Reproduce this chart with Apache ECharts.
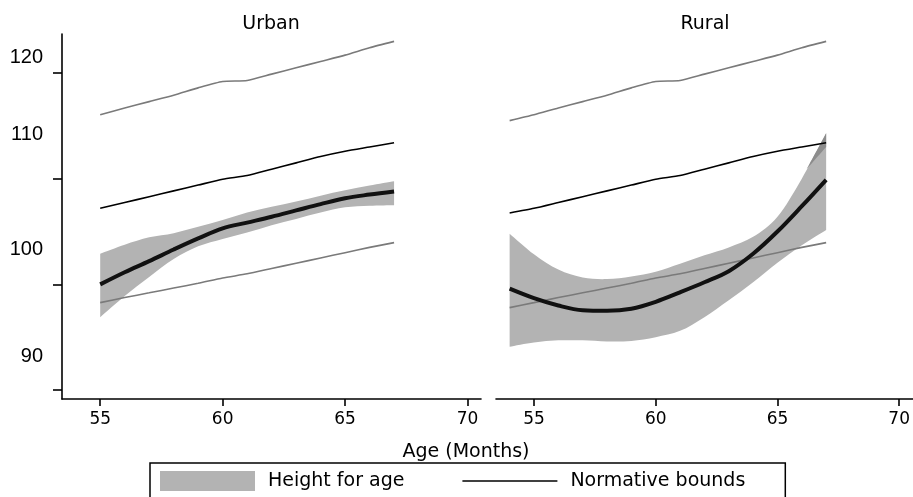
<!DOCTYPE html>
<html>
<head>
<meta charset="utf-8">
<script src="https://cdn.jsdelivr.net/npm/echarts@6/dist/echarts.min.js"></script>
<style>
  html, body { margin: 0; padding: 0; background: #fff; }
  #chart { width: 913px; height: 497px; }
</style>
</head>
<body>
<div id="chart"></div>
<script>
// Reference growth curves (cm) by age in months
const normAges   = [54, 55, 56, 57, 58, 59, 60, 61, 62, 63, 64, 65, 66, 67];
const normUpper  = [115.5, 116.05, 116.7, 117.3, 117.9, 118.6, 119.2, 119.3, 119.9, 120.5, 121.1, 121.7, 122.4, 123.0];
const normMedian = [106.75, 107.2, 107.75, 108.3, 108.85, 109.4, 109.95, 110.3, 110.9, 111.5, 112.1, 112.6, 113.0, 113.4];
const normLower  = [97.8, 98.27, 98.75, 99.2, 99.65, 100.1, 100.6, 101.0, 101.5, 102.0, 102.5, 103.0, 103.5, 103.95];

// Urban: fitted height for age with its confidence band
const urbanAges = [55, 56, 57, 58, 59, 60, 61, 62, 63, 64, 65, 66, 67];
const urbanFit  = [100.0, 101.15, 102.2, 103.3, 104.35, 105.3, 105.85, 106.4, 107.0, 107.6, 108.15, 108.5, 108.8];
const urbanHi   = [102.9, 103.75, 104.45, 104.85, 105.45, 106.1, 106.8, 107.35, 107.85, 108.4, 108.9, 109.35, 109.75];
const urbanLo   = [96.9, 98.9, 100.7, 102.4, 103.6, 104.3, 104.9, 105.6, 106.2, 106.8, 107.3, 107.45, 107.5];

// Rural: fitted height for age with its confidence band
const ruralAges = [54, 55, 56, 57, 58, 59, 60, 61, 62, 63, 64, 65, 66, 67];
const ruralFit  = [99.6, 98.7, 98.0, 97.55, 97.5, 97.7, 98.35, 99.25, 100.2, 101.25, 102.9, 105.0, 107.4, 109.9];
const ruralHi   = [104.8, 102.85, 101.4, 100.65, 100.5, 100.75, 101.2, 101.95, 102.75, 103.5, 104.5, 106.4, 110.0, 114.3];
const ruralLo   = [94.1, 94.5, 94.7, 94.7, 94.6, 94.65, 95.0, 95.6, 96.9, 98.5, 100.2, 102.05, 103.7, 105.15];

// Rural: sliver where the band overlaps itself at the oldest ages
const ruralOverlapAges = [66.2, 67];
const ruralOverlapLo   = [110.9, 113.0];
const ruralOverlapHi   = [110.9, 114.3];

const panelTitles = ['Urban', 'Rural'];
const xTicks = [55, 60, 65, 70];
const yTicks = [90, 100, 110, 120];
const xTitle = 'Age (Months)';
const bandName = 'Height for age';
const normName = 'Normative bounds';

const pairs = (xs, ys) => xs.map((x, i) => [x, ys[i]]);
const normFrom = (ys, startAge) =>
  normAges.map((a, i) => [a, ys[i]]).filter(p => p[0] >= startAge);

const FONT = '"DejaVu Sans", sans-serif';
const BAND = '#b3b3b3';
const BAND_DARK = '#8c8c8c';
const GREY = '#7a7a7a';

// Cubic Catmull-Rom segments through pixel points (first point excluded)
function curveTo(pts) {
  let s = '';
  const k = 1 / 6;
  for (let i = 0; i < pts.length - 1; i++) {
    const p0 = pts[Math.max(i - 1, 0)], p1 = pts[i], p2 = pts[i + 1], p3 = pts[Math.min(i + 2, pts.length - 1)];
    const c1 = [p1[0] + (p2[0] - p0[0]) * k, p1[1] + (p2[1] - p0[1]) * k];
    const c2 = [p2[0] - (p3[0] - p1[0]) * k, p2[1] - (p3[1] - p1[1]) * k];
    s += ' C' + c1[0] + ',' + c1[1] + ' ' + c2[0] + ',' + c2[1] + ' ' + p2[0] + ',' + p2[1];
  }
  return s;
}

// Filled band between lo and hi, drawn through the grid's own scales
function bandSeries(idx, ages, lo, hi, color, name) {
  return {
    type: 'custom', name: name, xAxisIndex: idx, yAxisIndex: idx,
    silent: true, clip: true,
    itemStyle: { color: color },
    data: ages.map((a, i) => [a, lo[i], hi[i]]),
    encode: { x: 0, y: [1, 2] },
    renderItem: function (params, api) {
      if (params.dataIndex !== 0) return null;
      const top = ages.map((a, i) => api.coord([a, hi[i]]));
      const bot = ages.map((a, i) => api.coord([a, lo[i]])).reverse();
      const d = 'M' + top[0][0] + ',' + top[0][1] + curveTo(top) +
        ' L' + bot[0][0] + ',' + bot[0][1] + curveTo(bot) + ' Z';
      return { type: 'path', shape: { pathData: d }, style: { fill: color, stroke: null } };
    }
  };
}

function lineSeries(idx, name, data, color, width, smooth) {
  return {
    type: 'line', name: name, xAxisIndex: idx, yAxisIndex: idx,
    symbol: 'none', silent: true, smooth: smooth, color: color,
    data: data,
    lineStyle: { color: color, width: width }
  };
}

function panelSeries(idx, ages, fit, lo, hi) {
  return [
    bandSeries(idx, ages, lo, hi, BAND, bandName),
    lineSeries(idx, normName, normFrom(normMedian, ages[0]), '#000', 1.6, 0.2),
    lineSeries(idx, normName, normFrom(normUpper, ages[0]), GREY, 1.6, 0.2),
    lineSeries(idx, normName, normFrom(normLower, ages[0]), GREY, 1.6, 0.2),
    lineSeries(idx, 'Fitted', pairs(ages, fit), '#111', 4, 0.35)
  ];
}

const xAxisBase = {
  type: 'value', min: 53.44, max: 70.55,
  axisLine: { show: true, lineStyle: { color: '#000', width: 1.6 } },
  axisTick: { show: true, customValues: xTicks, length: 7, lineStyle: { color: '#000', width: 1.6 } },
  axisLabel: { customValues: xTicks, margin: 12, fontFamily: FONT, fontSize: 17, color: '#000' },
  splitLine: { show: false }
};

const chart = echarts.init(document.getElementById('chart'), null, { renderer: 'canvas' });
chart.setOption({
  animation: false,
  backgroundColor: '#fff',
  grid: [
    { left: 62, top: 34, width: 419, height: 365 },
    { left: 496, top: 34, width: 419, height: 365 }
  ],
  xAxis: [
    Object.assign({ gridIndex: 0 }, xAxisBase),
    Object.assign({ gridIndex: 1 }, xAxisBase)
  ],
  yAxis: [
    {
      gridIndex: 0, type: 'value', min: 89.15, max: 123.7,
      axisLine: { show: true, lineStyle: { color: '#000', width: 1.6 } },
      axisTick: { show: true, customValues: yTicks, length: 9, lineStyle: { color: '#000', width: 1.6 } },
      axisLabel: {
        customValues: [93.2, 103.3, 114.2, 121.5],
        formatter: v => String(yTicks[Math.round((v - yTicks[0]) / 10)]),
        margin: 19, fontFamily: '"Liberation Sans", Arial, sans-serif', fontSize: 20, color: '#000'
      },
      splitLine: { show: false }
    },
    { gridIndex: 1, type: 'value', min: 89.15, max: 123.7, show: false, splitLine: { show: false } }
  ],
  legend: {
    data: [
      { name: bandName, icon: 'rect' },
      // thin horizontal stroke as the key for the reference curves
      { name: normName, icon: 'path://M0,0 L60,0 L60,1 L0,1 Z', itemStyle: { color: '#000' } }
    ],
    left: 150, top: 463,
    orient: 'horizontal',
    itemWidth: 95, itemHeight: 20, itemGap: 58,
    symbolKeepAspect: true,
    padding: [8, 40, 20, 10],
    borderColor: '#000', borderWidth: 1.5,
    selectedMode: false,
    textStyle: { fontFamily: FONT, fontSize: 19, color: '#000', padding: [0, 0, 0, 8] }
  },
  graphic: [
    { type: 'text', x: 271, y: 24, style: { text: panelTitles[0], font: '19px ' + FONT, fill: '#000', align: 'center', verticalAlign: 'middle' } },
    { type: 'text', x: 705, y: 24, style: { text: panelTitles[1], font: '19px ' + FONT, fill: '#000', align: 'center', verticalAlign: 'middle' } },
    { type: 'text', x: 466, y: 452, style: { text: xTitle, font: '19px ' + FONT, fill: '#000', align: 'center', verticalAlign: 'middle' } }
  ],
  series: [].concat(
    panelSeries(0, urbanAges, urbanFit, urbanLo, urbanHi),
    [bandSeries(1, ruralAges, ruralLo, ruralHi, BAND, bandName),
     bandSeries(1, ruralOverlapAges, ruralOverlapLo, ruralOverlapHi, BAND_DARK, 'Band overlap')],
    panelSeries(1, ruralAges, ruralFit, ruralLo, ruralHi).slice(1)
  )
});
</script>
</body>
</html>
